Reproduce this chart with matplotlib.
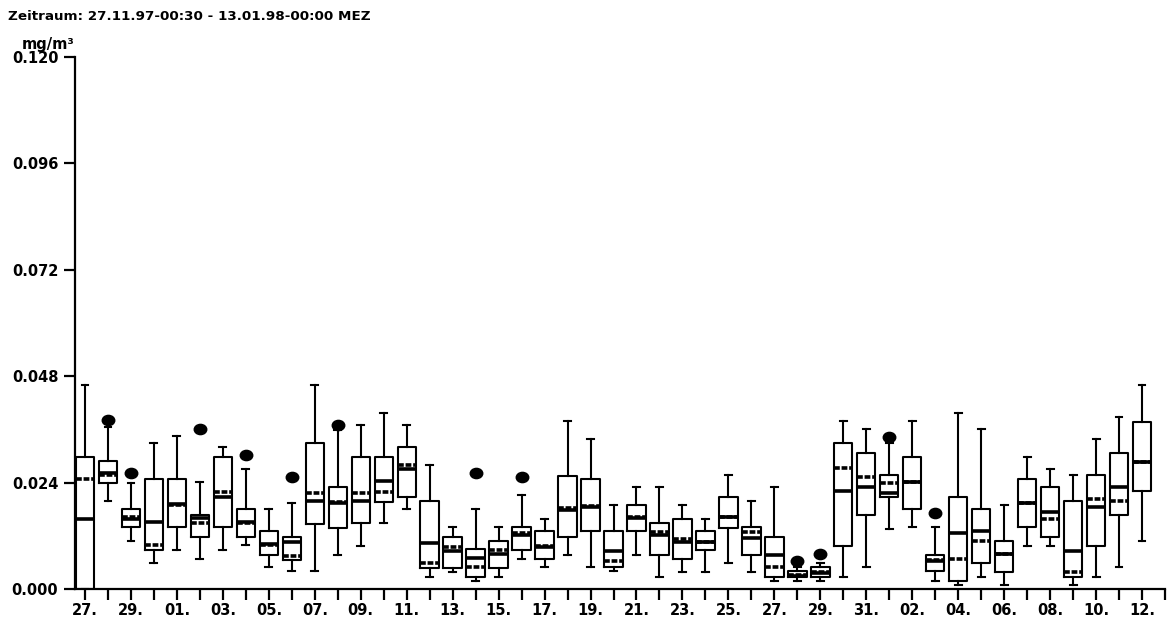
import pandas as pd
import matplotlib
matplotlib.use('Agg')
import matplotlib.pyplot as plt
from matplotlib.path import Path
from matplotlib.transforms import Affine2D

plt.rcParams['font.family'] = ['DejaVu Sans']
plt.rcParams['font.weight'] = 'bold'

# daily values 27.11.97 .. 12.01.98, mg/m³
days = pd.date_range('1997-11-27', '1998-01-12', freq='D')

whishi = [0.0460, 0.0365, 0.0238, 0.0329, 0.0346, 0.0242, 0.0321, 0.0270, 0.0180, 0.0193,
          0.0460, 0.0359, 0.0370, 0.0396, 0.0370, 0.0280, 0.0139, 0.0180, 0.0139, 0.0212,
          0.0157, 0.0379, 0.0338, 0.0189, 0.0229, 0.0229, 0.0189, 0.0158, 0.0257, 0.0198,
          0.0229, 0.0049, 0.0058, 0.0379, 0.0361, 0.0329, 0.0379, 0.0140, 0.0396, 0.0361,
          0.0189, 0.0298, 0.0270, 0.0257, 0.0338, 0.0387, 0.0460]
q3 = [0.0297, 0.0289, 0.0180, 0.0247, 0.0247, 0.0167, 0.0297, 0.0180, 0.0131, 0.0117,
      0.0330, 0.0229, 0.0298, 0.0298, 0.0320, 0.0198, 0.0117, 0.0090, 0.0108, 0.0139,
      0.0130, 0.0256, 0.0248, 0.0130, 0.0189, 0.0150, 0.0158, 0.0131, 0.0207, 0.0139,
      0.0117, 0.0041, 0.0049, 0.0329, 0.0306, 0.0257, 0.0298, 0.0077, 0.0207, 0.0180,
      0.0108, 0.0247, 0.0229, 0.0198, 0.0257, 0.0306, 0.0377]
median = [0.0158, 0.0262, 0.0159, 0.0151, 0.0192, 0.0161, 0.0207, 0.0152, 0.0101, 0.0105,
          0.0198, 0.0195, 0.0198, 0.0244, 0.0271, 0.0103, 0.0086, 0.0071, 0.0080, 0.0122,
          0.0095, 0.0178, 0.0186, 0.0086, 0.0161, 0.0122, 0.0107, 0.0105, 0.0162, 0.0116,
          0.0076, 0.0029, 0.0035, 0.0220, 0.0231, 0.0216, 0.0242, 0.0063, 0.0126, 0.0130,
          0.0078, 0.0193, 0.0174, 0.0086, 0.0184, 0.0229, 0.0287]
mean = [0.0247, 0.0257, 0.0163, 0.0099, 0.0189, 0.0149, 0.0218, 0.0150, 0.0099, 0.0074,
        0.0216, 0.0197, 0.0217, 0.0218, 0.0280, 0.0058, 0.0094, 0.0049, 0.0089, 0.0126,
        0.0097, 0.0182, 0.0187, 0.0064, 0.0163, 0.0129, 0.0112, 0.0107, 0.0163, 0.0128,
        0.0049, 0.0032, 0.0039, 0.0274, 0.0252, 0.0238, 0.0242, 0.0065, 0.0068, 0.0108,
        0.0080, 0.0193, 0.0157, 0.0038, 0.0202, 0.0198, 0.0287]
q1 = [0.0000, 0.0238, 0.0139, 0.0089, 0.0139, 0.0117, 0.0139, 0.0117, 0.0076, 0.0065,
      0.0147, 0.0138, 0.0148, 0.0197, 0.0207, 0.0048, 0.0048, 0.0026, 0.0048, 0.0089,
      0.0067, 0.0117, 0.0130, 0.0049, 0.0131, 0.0076, 0.0067, 0.0089, 0.0138, 0.0076,
      0.0026, 0.0026, 0.0026, 0.0098, 0.0166, 0.0207, 0.0180, 0.0040, 0.0017, 0.0058,
      0.0039, 0.0139, 0.0117, 0.0026, 0.0098, 0.0166, 0.0220]
whislo = [0.0000, 0.0198, 0.0108, 0.0058, 0.0089, 0.0068, 0.0089, 0.0099, 0.0049, 0.0041,
          0.0041, 0.0076, 0.0098, 0.0148, 0.0180, 0.0026, 0.0039, 0.0018, 0.0026, 0.0067,
          0.0049, 0.0076, 0.0049, 0.0040, 0.0076, 0.0026, 0.0039, 0.0039, 0.0058, 0.0039,
          0.0018, 0.0018, 0.0018, 0.0026, 0.0049, 0.0135, 0.0139, 0.0018, 0.0008, 0.0026,
          0.0008, 0.0098, 0.0098, 0.0008, 0.0026, 0.0049, 0.0108]
# single outliers, keyed by day index
outliers = {1: 0.0381, 2: 0.0261, 5: 0.0361, 7: 0.0302, 9: 0.0252, 11: 0.0370,
            17: 0.0261, 19: 0.0252, 31: 0.0063, 32: 0.0080, 35: 0.0342, 37: 0.0172}

title = 'Zeitraum: 27.11.97-00:30 - 13.01.98-00:00 MEZ'
unit = 'mg/m³'

stats = []
for i in range(len(days)):
    stats.append(dict(whishi=whishi[i], q3=q3[i], med=median[i], mean=mean[i],
                      q1=q1[i], whislo=whislo[i],
                      fliers=[outliers[i]] if i in outliers else []))

ellipse = Path.unit_circle().transformed(Affine2D().scale(1.0, 0.82))

fig = plt.figure(figsize=(11.71, 6.22), dpi=100)
ax = fig.add_axes([75 / 1171, 1 - 589 / 622, (1165 - 75) / 1171, (589 - 57) / 622])

line = dict(color='black', linewidth=1.5)
ax.bxp(stats, positions=range(len(days)), widths=0.8, capwidths=0.3,
       showmeans=True, meanline=True, manage_ticks=False,
       boxprops=line, whiskerprops=line, capprops=line,
       medianprops=dict(color='black', linewidth=2.6, solid_capstyle='butt'),
       meanprops=dict(color='black', linewidth=2.6, linestyle=(0, (1.6, 0.5))),
       flierprops=dict(marker=ellipse, markersize=9, markerfacecolor='black',
                       markeredgecolor='black'))

ax.set_xlim(-0.435, 47)
ax.set_ylim(0, 0.12)

ax.set_xticks(range(len(days) + 1))
ax.set_xticklabels([d.strftime('%d.') if i % 2 == 0 else '' for i, d in enumerate(days)] + [''])
yt = [0.0, 0.024, 0.048, 0.072, 0.096, 0.120]
ax.set_yticks(yt)
ax.set_yticklabels(['%.3f' % v for v in yt])

for s in ['top', 'right']:
    ax.spines[s].set_visible(False)
for s in ['left', 'bottom']:
    ax.spines[s].set_linewidth(1.6)
ax.tick_params(axis='both', direction='out', length=8, width=1.6, labelsize=10.5)
ax.tick_params(axis='x', pad=2)
ax.tick_params(axis='y', pad=4)

fig.text(0.007, 1 - 17 / 622, title, fontsize=9.7, fontweight='bold', va='center')
fig.text(48 / 1171, 1 - 44 / 622, unit, fontsize=10.5, fontweight='bold',
         ha='center', va='center')

fig.savefig('out.png', dpi=100)
